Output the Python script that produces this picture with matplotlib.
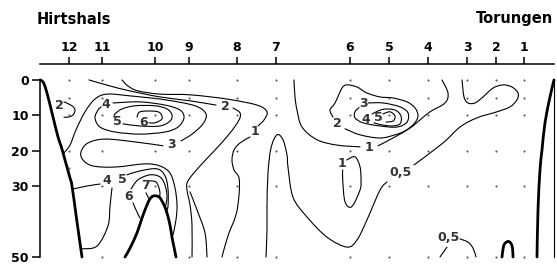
import matplotlib
matplotlib.use("Agg")
import matplotlib.pyplot as plt
from matplotlib.path import Path
from matplotlib.patches import PathPatch

# ---------------- data ----------------
stations = ['12', '11', '10', '9', '8', '7', '6', '5', '4', '3', '2', '1']
station_dist = [29, 62, 115, 149, 197, 236, 310, 349, 388, 427, 456, 484]
sample_depths = [
    [0, 5, 10, 20, 25],
    [0, 5, 10, 20, 30, 50],
    [0, 5, 10, 20, 30],
    [0, 5, 10, 20, 30, 50],
    [0, 5, 10, 20, 30, 50],
    [0, 5, 10, 20, 30, 50],
    [0, 5, 10, 20, 30, 50],
    [0, 5, 10, 20, 30, 50],
    [0, 5, 10, 20, 30, 50],
    [0, 5, 10, 20, 30, 50],
    [0, 5, 10, 20, 30, 50],
    [0, 5, 10, 20, 30, 50],
]
depth_ticks = [0, 10, 20, 30, 50]

# coast / bottom topography (distance, depth)
coast_left_x = [0, 2, 4, 7, 12, 18, 21, 25, 30, 32, 37, 42]
coast_left_d = [0, 0.3, 1.1, 3.7, 9.3, 16.1, 18.6, 22.6, 27.7, 29.9, 40.1, 50]
coast_right_x = [514, 510, 505, 502, 500, 498, 497]
coast_right_d = [0, 4.8, 12.1, 19.8, 25.4, 36.7, 50]
bank_x = [85, 90, 97, 102, 107, 110, 113, 117, 120, 124, 127, 130, 132, 134, 136]
bank_d = [50, 47.5, 43.2, 39.0, 35.3, 33.6, 32.8, 32.8, 33.3, 35.3, 37.6, 41.0, 44.4, 47.2, 50]
bump_x = [462, 463.5, 465.5, 468.5, 471, 472.5, 473]
bump_d = [50, 47, 46, 45.6, 46.2, 47.5, 50]

# isolines (distance, depth); None = gap for a label
iso2_coast_x = [24, 32, 35, 33, 28, 24]
iso2_coast_d = [6.2, 7.3, 8.5, 9.9, 10.5, 10.5]

iso2_left_x = [49, 70, 90, 120, 150, 176, None, 193, 200, 199, 190, 175, 160, 148, 147, 150, 152, 152]
iso2_left_d = [0, 1.7, 3.1, 4.8, 5.9, 7.1, None, 7.9, 9.3, 11.3, 15.0, 19.8, 24.3, 28.5, 31.1, 35.3, 41.0, 50]

iso1_left_x = [82, 88, 98, 120, 150, 187, 217, 227, 224, 218, None, 210, 200, 194, 192, 194, 199, 199, 196, 188, 182]
iso1_left_d = [0, 1.7, 3.1, 4.0, 4.2, 5.4, 7.1, 9.0, 11.3, 13.0, None, 16.1, 17.8, 19.8, 22.6, 25.4, 27.7, 32.5, 38.1, 44.0, 50]

iso3_left_x = [24, 30, 36, 45, 55, 67, 90, 125, 155, 166, 163, 152, 141, None,
               123, 95, 65, 48, 41, 43, 53, 75, 105, 120, 130, 135, 137, 136, 133]
iso3_left_d = [20.6, 18.4, 14.1, 9.0, 5.4, 4.0, 4.5, 5.6, 7.3, 9.6, 12.4, 15.3, 17.2, None,
               18.6, 17.5, 16.7, 17.8, 20.3, 22.6, 24.3, 24.6, 23.7, 24.3, 26.3, 30.5, 35.3, 39.5, 43.8]

iso15_left_x = [150, 157, 165, 167]
iso15_left_d = [31.6, 36.7, 43.2, 50]

iso4_up_x = [73, 100, 125, 140, 144, 138, 125, 100, 75, 60, 55, 58, 61]
iso4_up_d = [6.5, 6.2, 7.1, 8.5, 10.7, 13.3, 14.7, 15.3, 14.7, 13.3, 10.7, 8.5, 7.6]
iso5_up_x = [83, 100, 120, 130, 132, 127, 115, 95, 82, 75, 74]
iso5_up_d = [12.4, 13.0, 13.0, 11.6, 9.9, 8.2, 7.3, 7.3, 8.2, 9.6, 10.5]
iso6_up_x = [97, 100, 113, 120, 122, 115, 109]
iso6_up_d = [10.5, 9.0, 8.8, 9.3, 11.0, 12.1, 12.1]

iso4_low_x = [33, 48, 60]
iso4_low_d = [30.8, 29.9, 29.4]
iso5_low_leg_x = [72, 70, 68, 57, 42]
iso5_low_leg_d = [30.5, 35.6, 41.2, 46.9, 47.7]
iso5_low_x = [87, 100, 117, 125, 128, 128, 126]
iso5_low_d = [26.8, 25.7, 25.1, 27.1, 30.8, 35.6, 37.3]
iso6_low_x = [100, 96, 93, None, 91, 98, 110, 120, 125, 127, 125]
iso6_low_d = [39.0, 36.7, 34.7, None, 30.8, 28.2, 26.8, 27.4, 29.7, 33.1, 36.4]
iso7_low_x = [109, 106, None, 110, 116, 119, 120, 119]
iso7_low_d = [33.6, 31.9, None, 28.5, 28.8, 30.5, 32.2, 33.3]

iso05_big_x = [226, 227, 227, 228, 231, 237, 243, 247, 248, 253, 267, 287, 307, 317, 327, 340, 347, None,
               374, 403, 420, 437, 457, 470, 477, 478, 472, 463, 453, 443, 435, 428, 424, 422]
iso05_big_d = [50, 42.4, 35.9, 26.3, 19.2, 15.5, 16.9, 21.2, 24.6, 33.1, 38.7, 44.4, 47.2, 45.2, 39.5, 31.1, 28.8, None,
               24.0, 17.8, 13.3, 10.7, 9.0, 7.6, 5.6, 3.7, 2.0, 1.4, 2.3, 4.8, 6.5, 6.5, 4.8, 0]

iso1_right_x = [254, 255, 257, 262, 277, 297, 320, None, 338, 353, 370, 380, 390, 405, 408, 402]
iso1_right_d = [0, 4.8, 8.5, 13.3, 16.9, 18.4, 18.9, None, 18.6, 16.4, 13.6, 11.3, 9.0, 6.5, 3.7, 0]

iso1_loop_x = [306.7, 315, 320, 321, 320, 311.7, 305, 302.7, 302.7]
iso1_loop_d = [22.6, 21.7, 24.5, 28.2, 31.1, 35.8, 34.4, 28.2, 25.4]

iso2_right_x = [293, 290, 295, 302, 307, 317, 327, 340, 353, 367, 375, 378, 374, 365, 355, 340, 320, 305]
iso2_right_d = [10.5, 8.5, 6.5, 2.3, 1.4, 2.0, 3.7, 4.8, 5.1, 6.2, 7.9, 10.2, 12.4, 14.4, 15.5, 16.4, 15.5, 13.8]
iso3_right_x = [328, 343, 360, 368, 367, 357, 340, 323, 315, 315, 319]
iso3_right_d = [6.5, 6.5, 7.6, 9.3, 11.9, 13.3, 13.0, 12.1, 10.7, 9.0, 7.8]
iso4_right_x = [332, 343, 355, 361, 360, 352, 342, 334]
iso4_right_d = [9.6, 8.3, 8.5, 10.2, 12.4, 13.0, 12.7, 12.1]
iso5_right_x = [343, 350, 355, 353, 346]
iso5_right_d = [9.6, 9.0, 10.2, 11.6, 11.9]

iso05_small_a_x = [400, 407]
iso05_small_a_d = [50, 47.2]
iso05_small_b_x = [420, 428, 433, 436]
iso05_small_b_d = [44.9, 45.8, 47.5, 50]

label_text = ['2', '2', '1', '3', '4', '5', '6', '4', '5', '6', '7',
              '1', '2', '3', '4', '5', '1', '0,5', '0,5']
label_x = [19, 185, 215, 132, 66, 77, 104, 67, 82, 89, 105,
           329, 297, 323, 326, 338, 301.7, 360, 408]
label_d = [7.3, 7.6, 14.7, 18.1, 6.8, 11.6, 11.9, 28.5, 28.2, 32.8, 29.7,
           19.2, 12.4, 6.6, 11.2, 10.7, 23.7, 26.0, 44.6]


# ---------------- drawing helpers ----------------
def smooth_path(xs, ds):
    """Catmull-Rom spline through the given points, as cubic Bezier path."""
    verts, codes = [], []
    run = []
    runs = []
    for x, d in zip(xs, ds):
        if x is None:
            if run:
                runs.append(run)
            run = []
        else:
            run.append((x, d))
    if run:
        runs.append(run)
    for pts in runs:
        n = len(pts)
        verts.append(pts[0])
        codes.append(Path.MOVETO)
        for i in range(n - 1):
            p0 = pts[i - 1] if i > 0 else pts[i]
            p1 = pts[i]
            p2 = pts[i + 1]
            p3 = pts[i + 2] if i + 2 < n else pts[i + 1]
            c1 = (p1[0] + (p2[0] - p0[0]) / 6, p1[1] + (p2[1] - p0[1]) / 6)
            c2 = (p2[0] - (p3[0] - p1[0]) / 6, p2[1] - (p3[1] - p1[1]) / 6)
            verts += [c1, c2, p2]
            codes += [Path.CURVE4] * 3
    return Path(verts, codes)


def draw(ax, xs, ds, lw):
    ax.add_patch(PathPatch(smooth_path(xs, ds), fill=False, edgecolor='black',
                           lw=lw, capstyle='round', joinstyle='round', clip_on=False))


# ---------------- drawing ----------------
W, H = 557, 278
fig = plt.figure(figsize=(W / 100, H / 100), dpi=100)
ax = fig.add_axes([40 / W, 1 - 257 / H, 514 / W, (257 - 64) / H])
ax.set_xlim(0, 514)
ax.set_ylim(50, -4.5)

FONT = 'DejaVu Sans'

for xs, ds in [(coast_left_x, coast_left_d), (coast_right_x, coast_right_d),
               (bank_x, bank_d), (bump_x, bump_d)]:
    draw(ax, xs, ds, 2.0)

isolines = [
    (iso2_coast_x, iso2_coast_d), (iso2_left_x, iso2_left_d), (iso1_left_x, iso1_left_d),
    (iso3_left_x, iso3_left_d), (iso15_left_x, iso15_left_d),
    (iso4_up_x, iso4_up_d), (iso5_up_x, iso5_up_d), (iso6_up_x, iso6_up_d),
    (iso4_low_x, iso4_low_d), (iso5_low_leg_x, iso5_low_leg_d), (iso5_low_x, iso5_low_d),
    (iso6_low_x, iso6_low_d), (iso7_low_x, iso7_low_d),
    (iso05_big_x, iso05_big_d), (iso1_right_x, iso1_right_d), (iso1_loop_x, iso1_loop_d),
    (iso2_right_x, iso2_right_d), (iso3_right_x, iso3_right_d), (iso4_right_x, iso4_right_d),
    (iso5_right_x, iso5_right_d), (iso05_small_a_x, iso05_small_a_d),
    (iso05_small_b_x, iso05_small_b_d),
]
for xs, ds in isolines:
    draw(ax, xs, ds, 0.8)

for t, x, d in zip(label_text, label_x, label_d):
    ax.text(x, d, t, ha='center', va='center', fontsize=9, fontweight='bold',
            color='#333333', family=FONT)

# sample dots
for sx, depths in zip(station_dist, sample_depths):
    ax.plot([sx] * len(depths), depths, ls='none', marker='o', ms=1.5,
            color='#555555', mec='none', clip_on=False)

# axes styling
ax.spines['bottom'].set_visible(False)
ax.spines['right'].set_bounds(0, 50)
ax.spines['right'].set_linewidth(0.8)
ax.spines['left'].set_bounds(0, 50)
ax.spines['top'].set_linewidth(1.1)
ax.spines['left'].set_linewidth(1.1)

ax.xaxis.tick_top()
ax.yaxis.tick_left()
ax.set_xticks(station_dist)
ax.set_xticklabels(stations)
ax.set_yticks(depth_ticks)
ax.set_yticklabels([str(v) for v in depth_ticks])
ax.tick_params(axis='x', direction='out', length=5, width=1.1, pad=2, labelsize=9)
ax.tick_params(axis='y', direction='out', length=6, width=1.1, pad=2, labelsize=9)
for lab in ax.get_xticklabels() + ax.get_yticklabels():
    lab.set_fontweight('bold')
    lab.set_family(FONT)

fig.text(37 / W, 1 - 19 / H, 'Hirtshals', ha='left', va='center', fontsize=10.5,
         fontweight='bold', family=FONT)
fig.text(553 / W, 1 - 19 / H, 'Torungen', ha='right', va='center', fontsize=10.5,
         fontweight='bold', family=FONT)

fig.savefig('out.png', dpi=100)
